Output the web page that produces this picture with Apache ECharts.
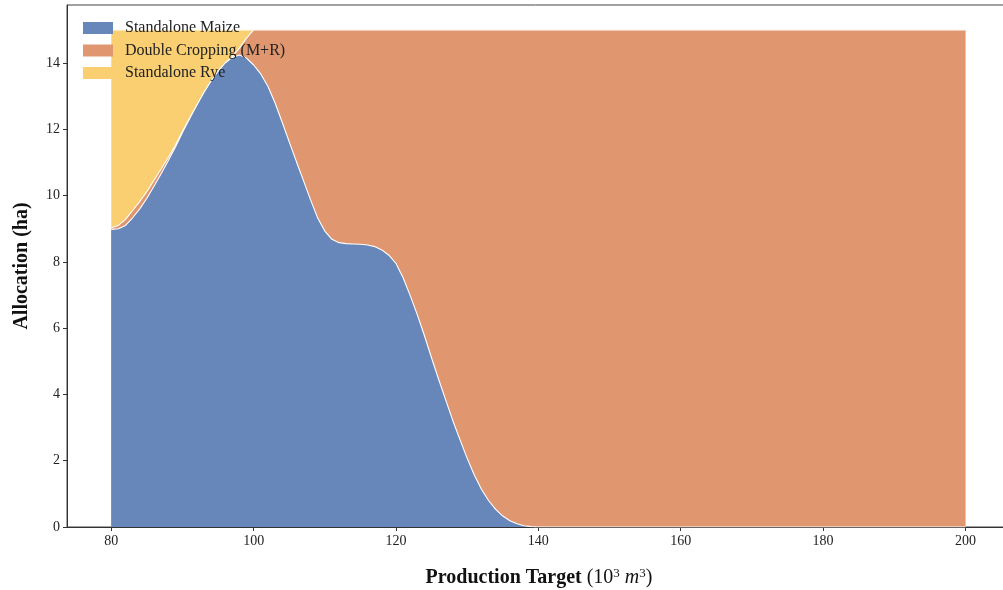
<!DOCTYPE html>
<html>
<head>
<meta charset="utf-8">
<script src="https://cdn.jsdelivr.net/npm/echarts@6/dist/echarts.min.js"></script>
<style>html,body{margin:0;padding:0;background:#fff;}#c{width:1003px;height:590px;}</style>
</head>
<body>
<div id="c"></div>
<script>
// Production target (10^3 m^3)
const xValues = [80,81,82,83,84,85,86,87,88,89,90,91,92,93,94,95,96,97,98,99,
  100,101,102,103,104,105,106,107,108,109,110,111,112,113,114,115,116,117,118,119,
  120,121,122,123,124,125,126,127,128,129,130,131,132,133,134,135,136,137,138,139,
  140,145,150,155,160,165,170,175,180,185,190,195,200];
const maize = [8.98,9.0,9.1,9.33,9.6,9.92,10.28,10.66,11.05,11.46,11.9,12.32,12.72,13.1,13.45,13.75,14.0,14.17,14.24,14.15,
  13.94,13.67,13.3,12.8,12.22,11.62,11.03,10.45,9.87,9.32,8.93,8.68,8.58,8.55,8.54,8.53,8.51,8.46,8.36,8.2,
  7.95,7.52,6.98,6.4,5.77,5.1,4.45,3.82,3.2,2.63,2.07,1.57,1.14,0.8,0.53,0.33,0.19,0.1,0.04,0.01,
  0,0,0,0,0,0,0,0,0,0,0,0,0];
const doubleCrop = [0.05,0.1,0.18,0.22,0.22,0.2,0.18,0.14,0.1,0.06,0.03,0.01,0,0,0,0,0,0.02,0.21,0.6,
  1.06,1.33,1.7,2.2,2.78,3.38,3.97,4.55,5.13,5.68,6.07,6.32,6.42,6.45,6.46,6.47,6.49,6.54,6.64,6.8,
  7.05,7.48,8.02,8.6,9.23,9.9,10.55,11.18,11.8,12.37,12.93,13.43,13.86,14.2,14.47,14.67,14.81,14.9,14.96,14.99,
  15,15,15,15,15,15,15,15,15,15,15,15,15];
const rye = [5.97,5.9,5.72,5.45,5.18,4.88,4.54,4.2,3.85,3.48,3.07,2.67,2.28,1.9,1.55,1.25,1.0,0.81,0.55,0.25,
  0,0,0,0,0,0,0,0,0,0,0,0,0,0,0,0,0,0,0,0,
  0,0,0,0,0,0,0,0,0,0,0,0,0,0,0,0,0,0,0,0,
  0,0,0,0,0,0,0,0,0,0,0,0,0];
const seriesNames = ['Standalone Maize','Double Cropping (M+R)','Standalone Rye'];
const xTicks = [80,100,120,140,160,180,200];
const yTicks = [0,2,4,6,8,10,12,14];

const colors = ['#6787ba','#e0966e','#f9cf72'];
const font = 'Liberation Serif';

// Stacked table built from the arrays (cumulative tops of each layer)
const layers = [maize, doubleCrop, rye];
const cumulative = [];
layers.forEach((arr, k) => {
  cumulative.push(arr.map((v, i) => +(v + (k ? cumulative[k-1][i] : 0)).toFixed(4)));
});

const mk = (k) => ({
  name: seriesNames[k], type:'line',
  data: xValues.map((x,i)=>[x, cumulative[k][i]]),
  smooth:false, symbol:'none', showSymbol:false,
  z: 3 - k,
  itemStyle:{color:colors[k]}, lineStyle:{color:'#ffffff', width:1.1},
  areaStyle:{color:colors[k], opacity:1, origin:'start'}, emphasis:{disabled:true}
});

const chart = echarts.init(document.getElementById('c'), null, {renderer:'canvas'});
chart.setOption({
  animation:false,
  backgroundColor:'#ffffff',
  grid:{left:67, top:5, width:944, height:522, outerBoundsMode:'none', containLabel:false,
    show:true, borderColor:'#444', borderWidth:1, backgroundColor:'transparent'},
  legend:{
    orient:'vertical', left:83, top:20, padding:0, itemWidth:30, itemHeight:12, itemGap:6.5, z:20,
    icon:'rect',
    textStyle:{fontFamily:font, fontSize:16, lineHeight:16, color:'#222', padding:[0,0,0,7]},
    data: seriesNames.map((n,i)=>({name:n, icon:'rect', itemStyle:{color:colors[i]}}))
  },
  xAxis:{
    type:'value', min:73.78, max:206.4,
    name:'{b|Production Target }{r|(10}{s|3}{r| }{i|m}{s|3}{r|)}',
    nameLocation:'middle', nameGap:40,
    nameTextStyle:{fontFamily:font, fontSize:20, color:'#111',
      rich:{
        b:{fontFamily:font, fontSize:20, fontWeight:'bold', color:'#111'},
        r:{fontFamily:font, fontSize:20, color:'#111'},
        i:{fontFamily:font, fontSize:20, fontStyle:'italic', color:'#111'},
        s:{fontFamily:font, fontSize:13, color:'#111', padding:[0,0,9,0]}
      }},
    axisLine:{show:true, onZero:false, lineStyle:{color:'#333', width:1}},
    axisTick:{show:true, length:4, customValues:xTicks, lineStyle:{color:'#333'}},
    axisLabel:{customValues:xTicks, fontFamily:font, fontSize:14, color:'#222', margin:7},
    splitLine:{show:false}
  },
  yAxis:{
    type:'value', min:0, max:15.75,
    name:'Allocation (ha)', nameLocation:'middle', nameGap:35, nameRotate:90,
    nameTextStyle:{fontFamily:font, fontSize:20, fontWeight:'bold', color:'#111'},
    axisLine:{show:true, lineStyle:{color:'#333', width:1}},
    axisTick:{show:true, length:4, customValues:yTicks, lineStyle:{color:'#333'}},
    axisLabel:{customValues:yTicks, fontFamily:font, fontSize:14, color:'#222', margin:7},
    splitLine:{show:false}
  },
  series:[mk(2), mk(1), mk(0)]
});
</script>
</body>
</html>
